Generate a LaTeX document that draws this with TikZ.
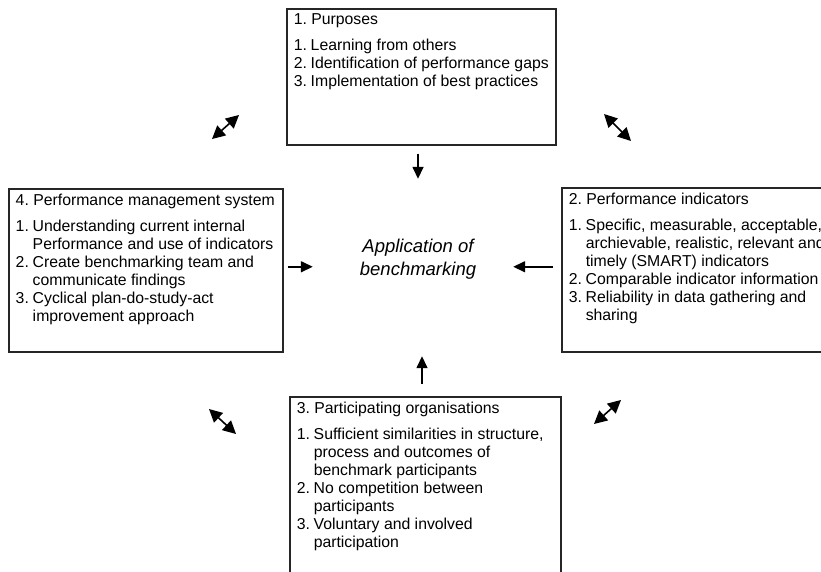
\documentclass[tikz,border=0pt]{standalone}
\usepackage{fontspec}
\setmainfont{Liberation Sans}
\usetikzlibrary{arrows.meta}

\newlength\itmind
\setlength\itmind{17pt}
\newcommand\itm[2]{\par\hangindent=\itmind\hangafter=1\noindent\makebox[\itmind][l]{#1}#2}
\newcommand\boxtext[3]{\parbox[c][#2][t]{#1}{\raggedright\frenchspacing\fontsize{15.8pt}{18pt}\selectfont\vspace*{5pt}#3}}

\tikzset{
  panel/.style={draw=black!85,line width=1.5pt,anchor=north west,inner xsep=7pt,inner ysep=0pt},
  centre/.style={minimum width=130pt,minimum height=100pt,inner sep=0pt,align=center,font=\fontsize{18.5pt}{23pt}\selectfont\itshape},
  arr/.style={line width=1.5pt,-{Triangle[length=12pt,width=11pt]}},
  dbl/.style={line width=1.6pt,{Triangle[length=13pt,width=13pt]}-{Triangle[length=13pt,width=13pt]}}
}

\begin{document}
\begin{tikzpicture}[x=1pt,y=-1pt]
	\useasboundingbox (0,0) rectangle (821,571);
	% the four boxes
	\node[panel] (purposes) at (286,8) {\boxtext{255pt}{136pt}{1. Purposes\par\vspace{8pt}
		\itm{1.}{Learning from others}
		\itm{2.}{Identification of performance gaps}
		\itm{3.}{Implementation of best practices}}};
	\node[panel] (management) at (8,188) {\boxtext{260pt}{163pt}{4. Performance management system\par\vspace{8pt}
		\itm{1.}{Understanding current internal\newline Performance and use of indicators}
		\itm{2.}{Create benchmarking team and\newline communicate findings}
		\itm{3.}{Cyclical plan-do-study-act\newline improvement approach}}};
	\node[panel] (indicators) at (561,187) {\boxtext{275pt}{164pt}{2. Performance indicators\par\vspace{8pt}
		\itm{1.}{Specific, measurable, acceptable,\newline archievable, realistic, relevant and\newline timely (SMART) indicators}
		\itm{2.}{Comparable indicator information}
		\itm{3.}{Reliability in data gathering and\newline sharing}}};
	\node[panel] (participants) at (289,396) {\boxtext{257pt}{194pt}{3. Participating organisations\par\vspace{8pt}
		\itm{1.}{Sufficient similarities in structure,\newline process and outcomes of\newline benchmark participants}
		\itm{2.}{No competition between\newline participants}
		\itm{3.}{Voluntary and involved\newline participation}}};
	\node[centre] (centre) at (418,259) {Application of\\benchmarking};
	% arrows to the centre
	\draw[arr,shorten <=8pt,shorten >=30pt] (purposes.south -| centre) -- (centre.north);
	\draw[arr,shorten <=12pt,shorten >=47pt] ([xshift=4pt]participants.north -| centre) -- ([xshift=4pt]centre.south);
	\draw[arr,shorten <=4pt,shorten >=40pt] ([yshift=3.5pt]management.east) -- ([yshift=3.5pt]management.east -| centre.west);
	\draw[arr,shorten <=8pt,shorten >=30pt] ([yshift=3pt]indicators.west) -- ([yshift=3pt]indicators.west -| centre.east);
	% cycle arrows
	\coordinate (tl1) at (212,139); \coordinate (tl2) at (239,115);
	\coordinate (tr1) at (604,114); \coordinate (tr2) at (631,141);
	\coordinate (bl1) at (209,409); \coordinate (bl2) at (236,434);
	\coordinate (br1) at (594,424); \coordinate (br2) at (621,400);
	\draw[dbl] (tl1) -- (tl2);
	\draw[dbl] (tr1) -- (tr2);
	\draw[dbl] (bl1) -- (bl2);
	\draw[dbl] (br1) -- (br2);
\end{tikzpicture}
\end{document}
